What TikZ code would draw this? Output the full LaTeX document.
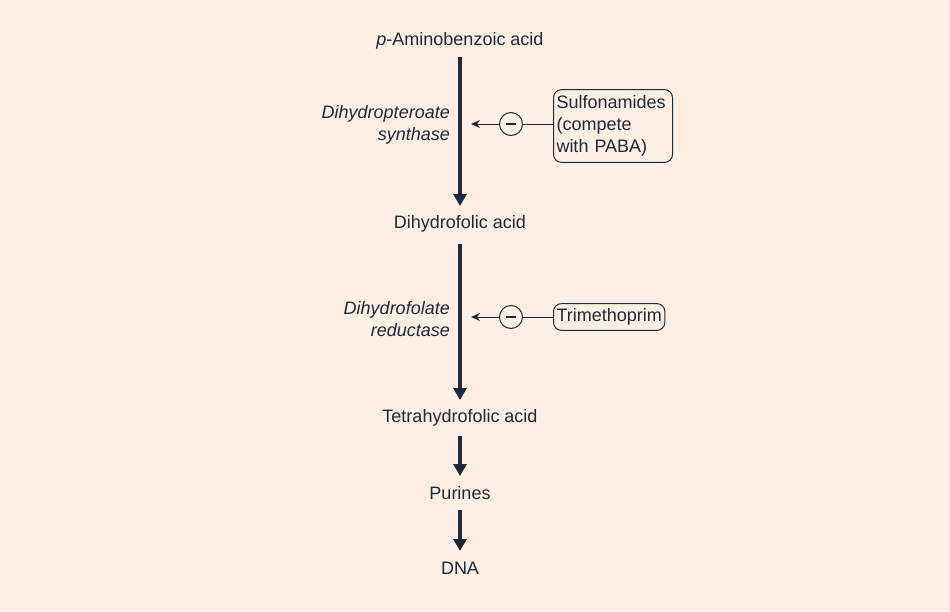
\documentclass[tikz,border=0pt]{standalone}
\usepackage{fontspec}
\setmainfont{Liberation Sans}
\usetikzlibrary{arrows.meta}
\definecolor{bg}{HTML}{FDEEE6}
\definecolor{ink}{HTML}{1E2A38}
\tikzset{
  lbl/.style={text=ink, font=\fontsize{18}{21}\selectfont, inner sep=0pt},
  enz/.style={text=ink, font=\fontsize{18}{22}\selectfont\itshape, align=right, inner sep=0pt, anchor=east},
  main/.style={draw=ink, line width=4.5pt, -{Triangle[length=12pt,width=13pt]}},
  inh/.style={draw=ink, line width=1pt},
  minus/.style={draw=ink, line width=1pt, circle, minimum size=23pt, inner sep=0pt, fill=bg},
  bar/.style={draw=ink, line width=2pt},
  drug/.style={draw=ink, line width=1pt, rounded corners=8pt, text=ink, font=\fontsize{18}{22}\selectfont, align=left, inner xsep=3pt, inner ysep=6pt},
}
\begin{document}
\begin{tikzpicture}[x=1pt,y=-1pt]
\fill[bg] (0,0) rectangle (950,611);
\useasboundingbox (0,0) rectangle (950,611);
\node[lbl] (paba) at (460,41) {\textit{p}-Aminobenzoic acid};
\node[lbl] (dhf) at (460,224) {Dihydrofolic acid};
\node[lbl] (thf) at (460,418) {Tetrahydrofolic acid};
\node[lbl] (pur) at (460,493) {Purines};
\node[lbl] (dna) at (460,568) {DNA};
\coordinate (a1s) at (460,57);
\coordinate (a1e) at (460,206);
\coordinate (a2s) at (460,244);
\coordinate (a2e) at (460,400);
\coordinate (a3s) at (460,436);
\coordinate (a3e) at (460,476);
\coordinate (a4s) at (460,510);
\coordinate (a4e) at (460,551);
\draw[main] (a1s) -- (a1e);
\draw[main] (a2s) -- (a2e);
\draw[main] (a3s) -- (a3e);
\draw[main] (a4s) -- (a4e);
\node[enz] (e1) at (450,125) {Dihydropteroate\\synthase};
\node[enz] (e2) at (450,319) {Dihydrofolate\\reductase};
\node[drug, anchor=west, text width=113pt] (sulf) at (553,126) {Sulfonamides\\(compete\\with PABA)};
\node[drug, anchor=west, inner ysep=5pt] (tmp) at (553,317) {Trimethoprim};
\node[minus] (m1) at (511,124) {};
\node[minus] (m2) at (511,317) {};
\draw[bar] ([xshift=-5pt]m1.center) -- ([xshift=5pt]m1.center);
\draw[bar] ([xshift=-5pt]m2.center) -- ([xshift=5pt]m2.center);
\coordinate (t1) at (471,124);
\coordinate (t2) at (471,317);
\draw[inh] (sulf.west |- m1) -- (m1);
\draw[inh] (tmp.west) -- (m2);
\draw[inh, -{Stealth[length=9pt,width=8pt]}] (m1) -- (t1);
\draw[inh, -{Stealth[length=9pt,width=8pt]}] (m2) -- (t2);
\end{tikzpicture}
\end{document}
